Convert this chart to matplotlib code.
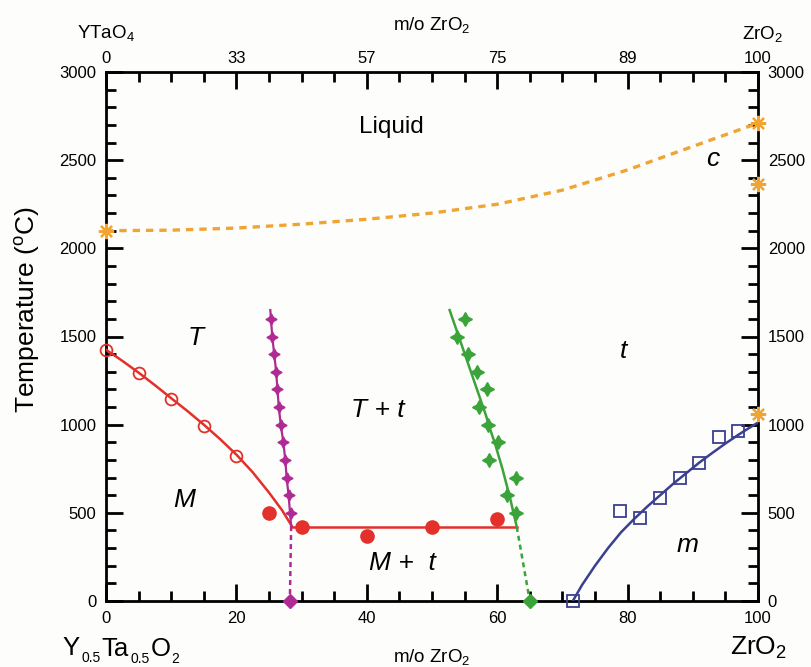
import matplotlib
matplotlib.use("Agg")
import matplotlib.pyplot as plt
from matplotlib.ticker import MultipleLocator, FixedLocator

plt.rcParams['font.family'] = ['Liberation Sans', 'DejaVu Sans']
plt.rcParams['mathtext.fontset'] = 'custom'
plt.rcParams['mathtext.rm'] = 'Liberation Sans'
plt.rcParams['mathtext.it'] = 'Liberation Sans:italic'

# ---- data (x = m/o ZrO2, T = temperature in C) ----
# M -> T transition (open red circles) and its curve
mt_x = [0, 5, 10, 15, 20]
mt_T = [1425, 1295, 1145, 995, 820]
mt_line_x = [0, 2.5, 5, 7.5, 10, 12.5, 15, 17.5, 20, 22.5, 25, 27, 28.5]
mt_line_T = [1425, 1362, 1295, 1224, 1150, 1077, 1000, 918, 830, 730, 615, 515, 425]

# eutectoid points (filled red circles) and isotherm
eut_x = [25, 30, 40, 50, 60]
eut_T = [500, 418, 370, 418, 463]
iso_x = [28.5, 63.0]
iso_T = [420, 420]

# T / T+t boundary (magenta)
tb_x = [25.2, 25.3, 25.5, 25.8, 26.1, 26.3, 26.5, 26.8, 27.2, 27.5, 27.7, 28.0, 28.4]
tb_T = [1650, 1600, 1500, 1400, 1300, 1200, 1100, 1000, 900, 800, 700, 600, 425]
tb_mk_x = [25.3, 25.5, 25.8, 26.1, 26.3, 26.5, 26.8, 27.2, 27.5, 27.7, 28.0, 28.4]
tb_mk_T = [1600, 1500, 1400, 1300, 1200, 1100, 1000, 900, 800, 700, 600, 500]
tb_ext_x = [28.4, 28.2]
tb_ext_T = [425, 0]
tb_end_x = [28.2]
tb_end_T = [0]

# T+t / t boundary (green)
gb_x = [52.7, 53.4, 54.1, 54.8, 55.5, 56.2, 56.9, 57.6, 58.3, 58.9, 59.6, 60.2, 60.8, 61.4, 62.0, 62.5, 63.0]
gb_T = [1650, 1575, 1500, 1425, 1350, 1275, 1200, 1125, 1050, 975, 900, 825, 750, 665, 580, 500, 420]
gb_mk_x = [55.1, 53.9, 55.5, 56.9, 58.4, 57.2, 58.6, 60.1, 58.8, 62.9, 61.5, 62.9]
gb_mk_T = [1600, 1500, 1400, 1300, 1200, 1100, 1000, 900, 800, 700, 600, 500]
gb_ext_x = [63.0, 65.0]
gb_ext_T = [420, 0]
gb_end_x = [65.0]
gb_end_T = [0]

# t -> m transition (blue)
tm_x = [71.6, 78.9, 81.9, 85.0, 88.0, 91.0, 94.0, 97.0]
tm_T = [0, 512, 473, 584, 695, 781, 930, 965]
tm_line_x = [71.6, 73, 75, 77, 79, 81, 83, 85, 87, 89, 91, 93, 95, 97, 98.5, 100]
tm_line_T = [0, 90, 200, 300, 390, 465, 535, 600, 665, 725, 785, 840, 893, 943, 978, 1012]

# liquidus / c (orange)
liq_x = [0, 10, 20, 30, 40, 50, 60, 70, 80, 90, 100]
liq_T = [2100, 2103, 2115, 2137, 2165, 2200, 2250, 2330, 2445, 2578, 2710]
zr_x = [0, 100, 100, 100]
zr_T = [2100, 2710, 2365, 1062]

bottom_ticks = [0, 20, 40, 60, 80, 100]
top_labels = ['0', '33', '57', '75', '89', '100']
y_ticks = [0, 500, 1000, 1500, 2000, 2500, 3000]

# ---- colours ----
RED = '#e3302a'
MAG = '#b02a94'
GRN = '#3aa33a'
BLU = '#3b3f8f'
ORG = '#f0a533'
BG = '#fdfdfb'

W, H = 811, 667
fig = plt.figure(figsize=(W / 100, H / 100), dpi=100)
fig.patch.set_facecolor(BG)
ax = fig.add_axes([106 / W, 1 - 601 / H, 652 / W, 529 / H])
ax.set_facecolor(BG)
ax.set_xlim(0, 100)
ax.set_ylim(0, 3000)

# liquidus
ax.plot(liq_x, liq_T, color=ORG, lw=2.4, ls=(0, (2.2, 1.8)), zorder=2)
ax.plot(zr_x, zr_T, ls='none', marker=(8, 2, 0), ms=11, mew=1.6,
        color=ORG, zorder=5, clip_on=False)

# red
ax.plot(mt_line_x, mt_line_T, color=RED, lw=1.8, zorder=3)
ax.plot(iso_x, iso_T, color=RED, lw=1.8, zorder=3)
ax.plot(mt_x, mt_T, ls='none', marker='o', ms=8.5, mfc='none', mec=RED,
        mew=1.3, zorder=4, clip_on=False)
ax.plot(eut_x, eut_T, ls='none', marker='o', ms=9.5, color=RED, zorder=4)

# magenta
ax.plot(tb_x, tb_T, color=MAG, lw=1.6, zorder=3)
ax.plot(tb_mk_x, tb_mk_T, ls='none', marker=(4, 1, 0), ms=8, color=MAG, zorder=4)
ax.plot(tb_ext_x, tb_ext_T, color=MAG, lw=1.8, ls=(0, (2, 1.6)), zorder=3)
ax.plot(tb_end_x, tb_end_T, ls='none', marker='D', ms=7, color=MAG,
        zorder=5, clip_on=False)

# green
ax.plot(gb_x, gb_T, color=GRN, lw=1.8, zorder=3)
ax.plot(gb_mk_x, gb_mk_T, ls='none', marker=(4, 1, 0), ms=10, color=GRN, zorder=4)
ax.plot(gb_ext_x, gb_ext_T, color=GRN, lw=1.8, ls=(0, (2, 1.6)), zorder=3)
ax.plot(gb_end_x, gb_end_T, ls='none', marker='D', ms=7, color=GRN,
        zorder=5, clip_on=False)

# blue
ax.plot(tm_line_x, tm_line_T, color=BLU, lw=1.8, zorder=3)
ax.plot(tm_x, tm_T, ls='none', marker='s', ms=8.5, mfc='none', mec=BLU,
        mew=1.3, zorder=4, clip_on=False)

# region labels
ax.text(43.7, 2656, 'Liquid', fontsize=17.5, ha='center', va='baseline')
ax.text(93.1, 2467, 'c', fontsize=19, style='italic', ha='center', va='baseline')
ax.text(13.7, 1452, 'T', fontsize=19, style='italic', ha='center', va='baseline')
ax.text(41.7, 1046, 'T + t', fontsize=19, style='italic', ha='center', va='baseline')
ax.text(79.3, 1376, 't', fontsize=19, style='italic', ha='center', va='baseline')
ax.text(12.0, 535, 'M', fontsize=19, style='italic', ha='center', va='baseline')
ax.text(45.4, 176, 'M +  t', fontsize=19, style='italic', ha='center', va='baseline')
ax.text(89.2, 280, 'm', fontsize=19, style='italic', ha='center', va='baseline')

# spines / ticks
for s in ax.spines.values():
    s.set_linewidth(2.0)
ax.xaxis.set_major_locator(FixedLocator(bottom_ticks))
ax.xaxis.set_minor_locator(MultipleLocator(5))
ax.yaxis.set_major_locator(FixedLocator(y_ticks))
ax.yaxis.set_minor_locator(MultipleLocator(100))
ax.tick_params(which='both', direction='in', top=True, right=True,
               labeltop=False, labelright=True, labelsize=12, width=2.0)
ax.tick_params(which='major', length=12, pad=7)
ax.tick_params(which='minor', length=7)
ax.set_xticks(bottom_ticks)
ax.set_xticklabels([str(v) for v in bottom_ticks])
secx = ax.secondary_xaxis('top')
secx.set_xticks(bottom_ticks)
secx.set_xticklabels(top_labels)
secx.tick_params(length=0, labelsize=12, pad=4)
secx.spines['top'].set_visible(False)

fig.text(28 / W, 1 - 310 / H, r'Temperature ($^{\rm o}$C)', fontsize=19,
         rotation=90, ha='center', va='center')

# composition labels (top)
fig.text(77 / W, 1 - 38 / H, r'YTaO$_4$', fontsize=13.5, ha='left', va='baseline')
fig.text(432 / W, 1 - 30 / H, r'm/o ZrO$_2$', fontsize=13.5, ha='center', va='baseline')
fig.text(763 / W, 1 - 39 / H, r'ZrO$_2$', fontsize=13.5, ha='center', va='baseline')

# composition labels (bottom)
fig.text(432 / W, 1 - 662 / H, r'm/o ZrO$_2$', fontsize=13.5, ha='center', va='baseline')
fig.text(758 / W, 1 - 655 / H, r'ZrO$_2$', fontsize=19, ha='center', va='baseline')

FB, FS = 18.5, 10
t1 = fig.text(62 / W, 1 - 655 / H, 'Y', fontsize=FB, ha='left', va='baseline')
kw_s = dict(fontsize=FS, ha='left', va='baseline', textcoords='offset points',
            annotation_clip=False)
kw_b = dict(fontsize=FB, ha='left', va='baseline', textcoords='offset points',
            annotation_clip=False)
s1 = ax.annotate('0.5', xy=(1, 0), xycoords=t1, xytext=(1.5, -1.5), **kw_s)
t2 = ax.annotate('Ta', xy=(1, 0), xycoords=(s1, t1), xytext=(0.5, 2.6), **kw_b)
s2 = ax.annotate('0.5', xy=(1, 0), xycoords=t2, xytext=(1.5, -1.5), **kw_s)
t3 = ax.annotate('O', xy=(1, 0), xycoords=(s2, t1), xytext=(0.5, 2.6), **kw_b)
s3 = ax.annotate('2', xy=(1, 0), xycoords=t3, xytext=(0.5, -1.5), **kw_s)

fig.savefig('out.png', dpi=100, facecolor=fig.get_facecolor())
